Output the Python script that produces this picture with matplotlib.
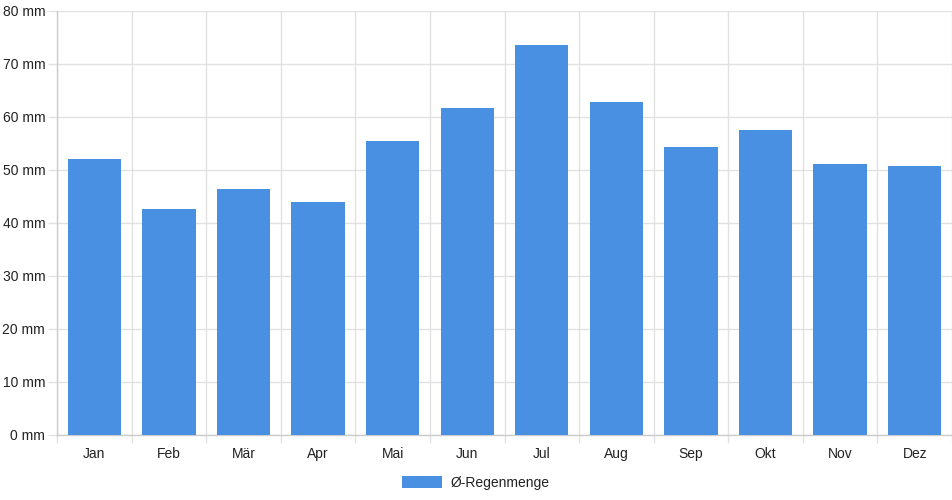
import numpy as np
import matplotlib
matplotlib.use("Agg")
import matplotlib.pyplot as plt

months = ["Jan", "Feb", "Mär", "Apr", "Mai", "Jun", "Jul", "Aug", "Sep", "Okt", "Nov", "Dez"]
rain_mm = [52.0, 42.6, 46.3, 44.0, 55.5, 61.7, 73.6, 62.8, 54.4, 57.5, 51.1, 50.7]
y_ticks = [0, 10, 20, 30, 40, 50, 60, 70, 80]
series_label = "Ø-Regenmenge"

plt.rcParams['font.family'] = ['Liberation Sans', 'DejaVu Sans']

bar_color = "#4a90e2"
grid_color = "#e1e1e1"
text_color = "#222222"
fsize = 10

fig = plt.figure(figsize=(9.52, 5.0), dpi=100)
ax = fig.add_axes([57 / 952, 1 - 434.5 / 500, (952 - 57) / 952, (434.5 - 11) / 500])

x = np.arange(len(months))
ax.bar(x, rain_mm, width=0.716, color=bar_color, label=series_label, zorder=3)

ax.set_xlim(-0.5, len(months) - 0.5)
ax.set_ylim(0, 80)

ax.set_yticks(y_ticks)
ax.set_yticklabels([f"{v} mm" for v in y_ticks])
ax.set_xticks(x)
ax.set_xticklabels(months)

# gridlines on category boundaries, as chart.js draws them
ax.set_xticks(np.arange(len(months) + 1) - 0.5, minor=True)
ax.grid(False)
ax.grid(True, which="minor", axis="x", color=grid_color, linewidth=1, zorder=0)
ax.grid(True, which="major", axis="y", color=grid_color, linewidth=1, zorder=0)

# tick lengths are in points (100 dpi -> 1 px = 0.72 pt)
ax.tick_params(axis="x", which="major", length=0, pad=9, labelsize=fsize, labelcolor=text_color)
ax.tick_params(axis="x", which="minor", length=5.8, color=grid_color, width=1)
ax.tick_params(axis="y", which="major", length=6.5, color=grid_color, width=1, pad=2,
               labelsize=fsize, labelcolor=text_color)

for side in ["top", "right"]:
    ax.spines[side].set_visible(False)
ax.spines["left"].set_color("#cccccc")
ax.spines["bottom"].set_color("#cccccc")
ax.spines["left"].set_linewidth(1)
ax.spines["bottom"].set_linewidth(1)

fig.legend(loc="center", bbox_to_anchor=(0.5, 1 - 483 / 500), frameon=False,
           fontsize=fsize, labelcolor=text_color, handlelength=2.9, handleheight=1.0,
           handletextpad=0.6)

fig.savefig("out.png", dpi=100)
